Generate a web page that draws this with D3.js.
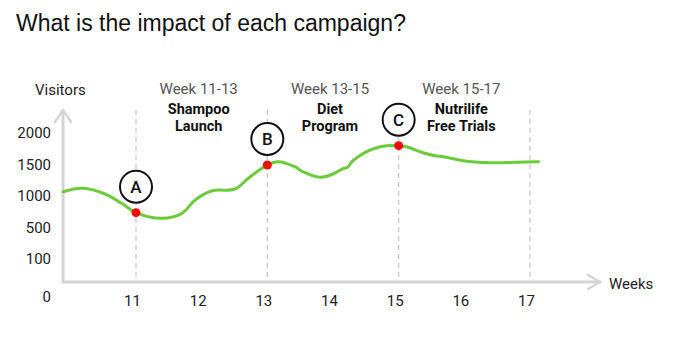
<!DOCTYPE html>
<html>
<head>
<meta charset="utf-8">
<title>Campaign impact</title>
<style>

body {
  margin: 0;
  background-color: #fff;
}

svg {
  display: block;
  font-family: "Roboto", "Noto Sans", sans-serif;
}

.title {
  font-family: "Liberation Sans", Arial, Helvetica, sans-serif;
  font-size: 23px;
  fill: #111;
}

.axis text {
  font-size: 15px;
  fill: #222;
}

.period {
  font-size: 15px;
  fill: #555;
}

.campaign {
  font-size: 14.5px;
  font-weight: 700;
  fill: #111;
}

</style>
</head>
<body>
<svg width="681" height="353"></svg>
<script src="https://cdn.jsdelivr.net/npm/d3@7"></script>
<script>

// visitors per week
var weeks = [9.89, 10.19, 10.53, 10.78, 11, 11.39, 11.7, 11.9, 12.15, 12.51, 12.71,
             13, 13.16, 13.42, 13.54, 13.8, 14, 14.13, 14.23, 14.29, 14.51, 14.72,
             15, 15.12, 15.37, 15.58, 15.68, 15.98, 16.39, 16.8, 17.13];
var visitors = [1068, 1122, 1032, 885, 737, 648, 727, 937, 1080, 1111, 1280,
                1490, 1542, 1463, 1384, 1296, 1348, 1422, 1463, 1542, 1700, 1779,
                1795, 1779, 1684, 1632, 1621, 1558, 1526, 1533, 1542];

var xTicks = [11, 12, 13, 14, 15, 16, 17];
var yTicks = [0, 100, 500, 1000, 1500, 2000];
var gridWeeks = [11, 13, 15, 17];

var markerLabels = ["A", "B", "C"];
var markerWeeks = [11, 13, 15];

var periodLabels = ["Week 11-13", "Week 13-15", "Week 15-17"];
var periodMid = [12, 14, 16];
var campaignLines = [["Shampoo", "Launch"], ["Diet", "Program"], ["Nutrilife", "Free Trials"]];

var data = weeks.map(function(w, i) { return { week: w, value: visitors[i] }; });

var x0 = 63,
    xEnd = 600,
    yAxisTop = 110,
    yBase = 282;

var x = d3.scaleLinear()
    .domain([11, 17])
    .range([136, 530]);

// the value axis is not evenly spaced in the original
var y = d3.scaleLinear()
    .domain([0, 100, 500, 2000])
    .range([296.7, 259, 227.7, 132.7]);

var svg = d3.select("svg");

svg.append("text")
    .attr("class", "title")
    .attr("x", 16)
    .attr("y", 31)
    .text("What is the impact of each campaign?");

// dashed week guides
svg.append("g")
  .selectAll("line")
    .data(gridWeeks)
  .enter().append("line")
    .attr("x1", function(d) { return x(d); })
    .attr("x2", function(d) { return x(d); })
    .attr("y1", yAxisTop)
    .attr("y2", yBase)
    .style("stroke", "#c4c4c4")
    .style("stroke-width", 1.2)
    .style("stroke-dasharray", "5,4");

// axes with arrow heads
var axes = svg.append("g")
    .style("stroke", "#d4d4d4")
    .style("fill", "none")
    .style("stroke-width", 3)
    .style("stroke-linecap", "round")
    .style("stroke-linejoin", "round");

axes.append("path")
    .attr("d", "M" + x0 + "," + (yAxisTop + 1) + "V" + yBase + "H" + xEnd);
axes.append("path")
    .style("stroke-width", 2.5)
    .attr("d", "M" + (x0 - 8) + "," + (yAxisTop + 12) + "L" + x0 + "," + yAxisTop + "L" + (x0 + 8) + "," + (yAxisTop + 12));
axes.append("path")
    .style("stroke-width", 2.5)
    .attr("d", "M" + (xEnd - 12) + "," + (yBase - 7) + "L" + xEnd + "," + yBase + "L" + (xEnd - 12) + "," + (yBase + 7));

var yAxis = svg.append("g")
    .attr("class", "axis")
    .attr("transform", "translate(51,0)")
    .call(d3.axisLeft(y).tickValues(yTicks).tickSize(0).tickPadding(0).tickFormat(d3.format("d")));
yAxis.select(".domain").remove();
yAxis.selectAll("text").style("font-family", "Roboto");

var xAxis = svg.append("g")
    .attr("class", "axis")
    .attr("transform", "translate(0," + yBase + ")")
    .call(d3.axisBottom(x).tickValues(xTicks).tickSize(0).tickPadding(13).tickFormat(d3.format("d")));
xAxis.select(".domain").remove();
xAxis.selectAll("text").attr("dx", -4).style("font-family", "Roboto");

svg.append("text")
    .attr("x", 35)
    .attr("y", 95)
    .style("font-size", "15px")
    .style("fill", "#222")
    .text("Visitors");

svg.append("text")
    .attr("x", 609)
    .attr("y", 288.5)
    .style("font-size", "15px")
    .style("fill", "#222")
    .text("Weeks");

// visitor curve
var line = d3.line()
    .x(function(d) { return x(d.week); })
    .y(function(d) { return y(d.value); })
    .curve(d3.curveCatmullRom.alpha(0.5));

svg.append("path")
    .datum(data)
    .attr("d", line)
    .style("fill", "none")
    .style("stroke", "#6bcb3b")
    .style("stroke-width", 3)
    .style("stroke-linecap", "round");

var markers = markerWeeks.map(function(w, i) {
  var p = data.find(function(d) { return d.week === w; });
  return { label: markerLabels[i], week: w, value: p.value };
});

svg.append("g")
  .selectAll("circle")
    .data(markers)
  .enter().append("circle")
    .attr("cx", function(d) { return x(d.week); })
    .attr("cy", function(d) { return y(d.value); })
    .attr("r", 4.5)
    .style("fill", "#f20d0d");

var badge = svg.append("g")
  .selectAll("g")
    .data(markers)
  .enter().append("g")
    .attr("transform", function(d) {
      return "translate(" + x(d.week) + "," + (y(d.value) - 26) + ")";
    });

badge.append("circle")
    .attr("r", 16)
    .style("fill", "#fff")
    .style("stroke", "#111")
    .style("stroke-width", 2);

badge.append("text")
    .attr("text-anchor", "middle")
    .attr("dy", "0.36em")
    .style("font-size", "17px")
    .style("font-weight", 500)
    .style("fill", "#111")
    .text(function(d) { return d.label; });

// campaign labels
var notes = svg.append("g")
  .selectAll("g")
    .data(periodLabels)
  .enter().append("g")
    .attr("transform", function(d, i) { return "translate(" + (x(periodMid[i]) - 3) + ",0)"; });

notes.append("text")
    .attr("class", "period")
    .attr("text-anchor", "middle")
    .attr("y", 94)
    .text(function(d) { return d; });

notes.append("text")
    .attr("class", "campaign")
    .attr("text-anchor", "middle")
    .selectAll("tspan")
    .data(function(d, i) { return campaignLines[i]; })
  .enter().append("tspan")
    .attr("x", 0)
    .attr("y", function(d, j) { return 114 + j * 17; })
    .text(function(d) { return d; });

</script>
</body>
</html>
